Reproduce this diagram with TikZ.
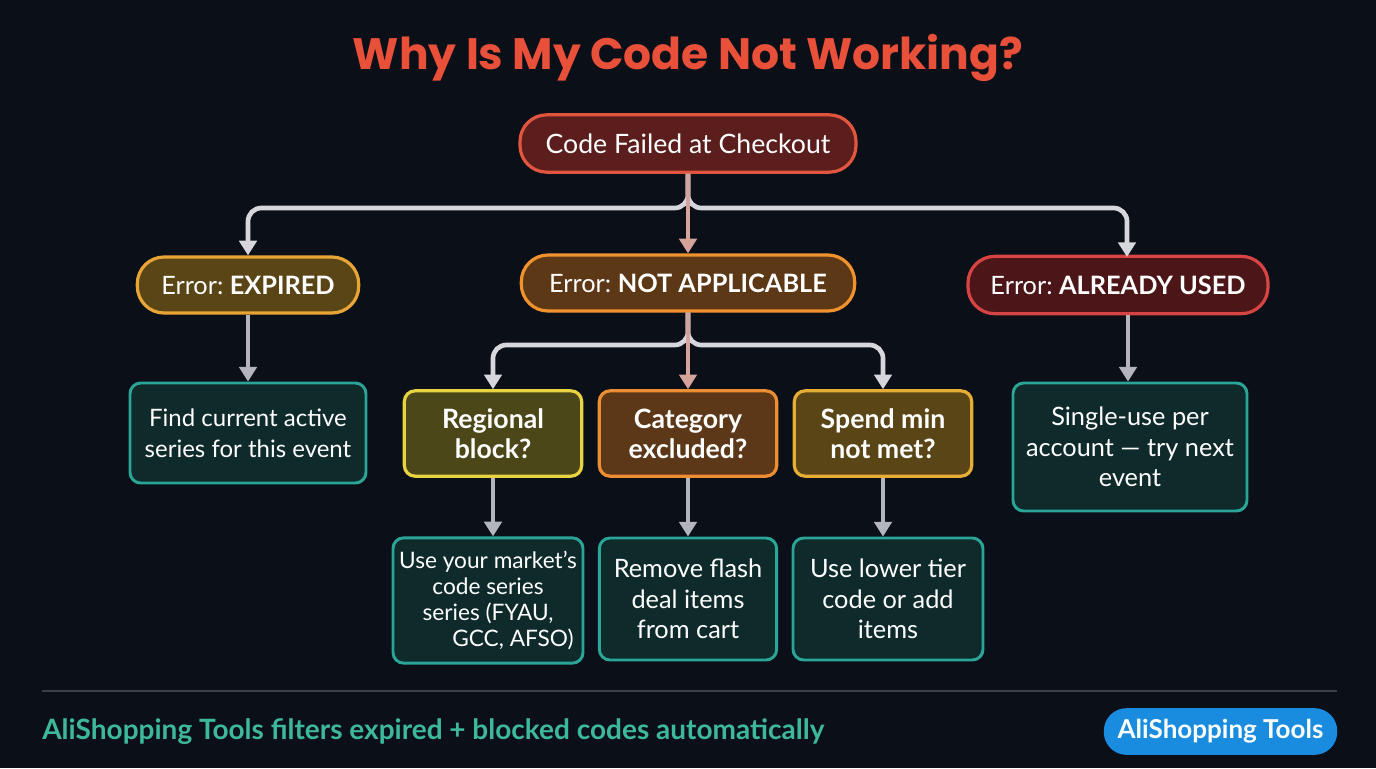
\documentclass[tikz,border=0pt]{standalone}
\usepackage{fontspec}
\setmainfont{Lato}
\newfontfamily\titlefont{Poppins}[UprightFont=*-Bold]
\usetikzlibrary{arrows.meta}
\definecolor{bg}{HTML}{0A0F18}
\definecolor{titlered}{HTML}{E8503A}
\definecolor{rootfill}{HTML}{5C1E1C}
\definecolor{rootdraw}{HTML}{E2553F}
\definecolor{expfill}{HTML}{5A4516}
\definecolor{expdraw}{HTML}{E8A535}
\definecolor{nafill}{HTML}{5C3816}
\definecolor{nadraw}{HTML}{F0922E}
\definecolor{aufill}{HTML}{4C1619}
\definecolor{audraw}{HTML}{D84444}
\definecolor{regfill}{HTML}{4C4718}
\definecolor{regdraw}{HTML}{E8D443}
\definecolor{catfill}{HTML}{5C3718}
\definecolor{catdraw}{HTML}{EE8E33}
\definecolor{spfill}{HTML}{5A4516}
\definecolor{spdraw}{HTML}{E6AE34}
\definecolor{tealfill}{HTML}{0F2A2B}
\definecolor{tealdraw}{HTML}{2BA597}
\definecolor{connlight}{HTML}{D6D6DC}
\definecolor{connpink}{HTML}{D4A49C}
\definecolor{conngray}{HTML}{B4B4BC}
\definecolor{footgreen}{HTML}{3DB89A}
\definecolor{badgeblue}{HTML}{1A8CE0}
\definecolor{sepgray}{HTML}{3A3F48}
\begin{document}
\begin{tikzpicture}[x=0.75pt,y=-0.75pt,
  pill/.style={rounded corners=20pt, line width=2.4pt, text=white, align=center,
    inner sep=0pt, font=\fontsize{19}{22}\selectfont},
  qbox/.style={rounded corners=8pt, line width=2.4pt, text=white, align=center,
    inner sep=0pt, minimum width=133pt, minimum height=64pt,
    font=\fontsize{20}{22.5}\selectfont\bfseries},
  abox/.style={rounded corners=8pt, line width=2.2pt, draw=tealdraw, fill=tealfill,
    text=white, align=center, inner sep=0pt, font=\fontsize{19}{23}\selectfont},
  conn/.style={line width=3.5pt, rounded corners=10pt,
    -{Triangle[width=13pt,length=11pt]}}
]
\fill[bg] (0,0) rectangle (1376,768);
\useasboundingbox (0,0) rectangle (1376,768);

\node[text=titlered, font=\titlefont\fontsize{33}{38}\selectfont] (title) at (688,58) {Why Is My Code Not Working?};

\node[pill, draw=rootdraw, fill=rootfill, minimum width=252pt, minimum height=43pt, font=\fontsize{20}{22}\selectfont] (root) at (688,143.5) {Code Failed at Checkout};

\node[pill, draw=expdraw, fill=expfill, minimum width=166pt, minimum height=42pt] (exp) at (248,285) {Error:~\textbf{EXPIRED}};
\node[pill, draw=nadraw, fill=nafill, minimum width=250pt, minimum height=42pt] (na) at (688,283) {Error:~\textbf{NOT APPLICABLE}};
\node[pill, draw=audraw, fill=aufill, minimum width=225pt, minimum height=43pt] (au) at (1118,285) {Error:~\textbf{ALREADY USED}};

\node[abox, minimum width=177pt, minimum height=75pt, font=\fontsize{18}{23}\selectfont] (find) at (248,433) {Find current active\\series for this event};
\node[abox, minimum width=175.5pt, minimum height=96pt] (single) at (1130,447) {Single-use per\\account — try next\\event};

\node[qbox, draw=regdraw, fill=regfill] (reg) at (493,433.5) {Regional\\block?};
\node[qbox, draw=catdraw, fill=catfill] (cat) at (688,433.5) {Category\\excluded?};
\node[qbox, draw=spdraw, fill=spfill] (sp) at (883,433.5) {Spend min\\not met?};

\node[abox, minimum width=142.5pt, minimum height=94pt, font=\fontsize{17}{19.5}\selectfont] (market) at (488,600.5) {Use your market’s\\code series\\series (FYAU,\\\hspace*{2.2em}GCC, AFSO)};
\node[abox, minimum width=133pt, minimum height=91.5pt] (flash) at (688,599) {Remove flash\\deal items\\from cart};
\node[abox, minimum width=142.5pt, minimum height=91.5pt] (lower) at (888,599) {Use lower tier\\code or add\\items};

% connectors
\coordinate (j1) at (688,208);
\coordinate (j2) at (688,345);
\draw[conn, draw=connlight] (root.south) -- (j1) -| (exp.north);
\draw[conn, draw=connlight] (root.south) -- (j1) -| (1127,257);
\draw[conn, draw=connpink] (root.south) -- (na.north);
\draw[conn, draw=conngray] (exp.south) -- (find.north);
\draw[conn, draw=conngray] (au.south -| 1128,0) -- (single.north -| 1128,0);

\draw[conn, draw=connlight] (na.south) -- (j2) -| (reg.north);
\draw[conn, draw=connlight] (na.south) -- (j2) -| (sp.north);
\draw[conn, draw=connpink] (na.south) -- (cat.north);

\draw[conn, draw=conngray] (reg.south) -- (reg.south |- market.north);
\draw[conn, draw=conngray] (cat.south) -- (flash.north);
\draw[conn, draw=conngray] (sp.south) -- (sp.south |- lower.north);

% footer
\draw[sepgray, line width=1.2pt] (42,691) -- (1337,691);
\node[anchor=west, inner sep=0pt, text=footgreen, font=\fontsize{21}{24}\selectfont\bfseries] (foot) at (42,732) {AliShopping Tools filters expired + blocked codes automatically};
\node[fill=badgeblue, rounded corners=17pt, minimum width=175pt, minimum height=35pt, inner sep=0pt, text=white, font=\fontsize{19.5}{22}\selectfont\bfseries] (badge) at (1220.5,731.5) {AliShopping Tools};
\end{tikzpicture}
\end{document}
